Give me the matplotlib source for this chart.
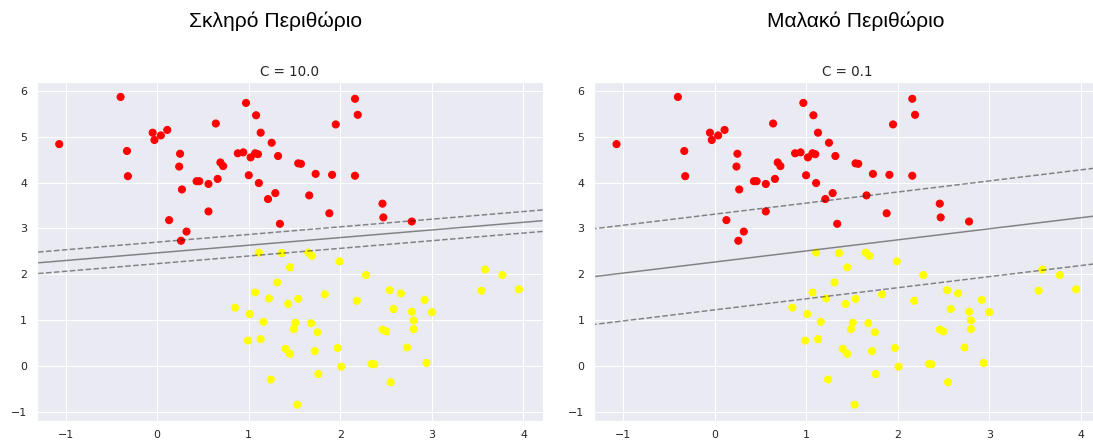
import numpy as np
import matplotlib
matplotlib.use('Agg')
import matplotlib.pyplot as plt
import seaborn as sns

sns.set_theme()

# points: class 0 (red) and class 1 (yellow)
red_x = [-1.07, -0.40, -0.33, -0.32, -0.05, -0.03, 0.04, 0.11, 0.25, 0.24,
         0.27, 0.13, 0.32, 0.26, 0.43, 0.46, 0.56, 0.56, 0.66, 0.64,
         0.69, 0.72, 0.88, 0.94, 0.97, 1.00, 1.02, 1.07, 1.10, 1.08,
         1.13, 1.11, 1.25, 1.32, 1.29, 1.21, 1.34, 1.54, 1.57, 1.73,
         1.91, 2.16, 2.16, 2.19, 1.95, 1.66, 1.88, 2.46, 2.47, 2.78]
red_y = [4.84, 5.87, 4.69, 4.14, 5.09, 4.93, 5.03, 5.15, 4.63, 4.35,
         3.85, 3.18, 2.93, 2.73, 4.03, 4.03, 3.97, 3.37, 4.08, 5.29,
         4.44, 4.36, 4.64, 4.66, 5.74, 4.16, 4.55, 4.64, 4.62, 5.47,
         5.09, 3.99, 4.87, 4.58, 3.77, 3.64, 3.10, 4.42, 4.41, 4.19,
         4.17, 4.15, 5.83, 5.48, 5.27, 3.72, 3.33, 3.54, 3.24, 3.15]
yel_x = [1.11, 1.36, 1.65, 1.69, 1.99, 1.45, 1.31, 1.07, 1.22, 1.43,
         0.85, 1.01, 1.16, 0.99, 1.13, 1.40, 1.45, 1.24, 2.28, 1.83,
         1.54, 2.18, 2.54, 2.66, 2.92, 2.58, 2.78, 3.00, 2.80, 2.80,
         2.46, 2.50, 1.51, 1.49, 1.68, 1.75, 1.72, 1.97, 2.73, 2.01,
         2.34, 2.37, 2.94, 1.76, 2.55, 1.53, 3.58, 3.77, 3.54, 3.95]
yel_y = [2.47, 2.46, 2.47, 2.40, 2.28, 2.15, 1.82, 1.60, 1.47, 1.35,
         1.27, 1.13, 0.96, 0.55, 0.58, 0.37, 0.26, -0.30, 1.98, 1.56,
         1.46, 1.42, 1.65, 1.58, 1.44, 1.24, 1.18, 1.17, 0.99, 0.80,
         0.79, 0.75, 0.94, 0.80, 0.93, 0.73, 0.32, 0.39, 0.40, -0.02,
         0.04, 0.03, 0.06, -0.18, -0.36, -0.85, 2.10, 1.98, 1.64, 1.67]

# decision boundary per model: slope, intercept, half margin (in y)
C_values = [10.0, 0.1]
slopes = [0.167, 0.242]
intercepts = [2.465, 2.265]
margins = [0.235, 1.045]
titles = ['Σκληρό Περιθώριο', 'Μαλακό Περιθώριο']

X = np.array(red_x + yel_x)
Y = np.array(red_y + yel_y)
labels = np.array([0] * len(red_x) + [1] * len(yel_x))

dpi = 72
fig = plt.figure(figsize=(1093 / dpi, 441 / dpi), dpi=dpi)
ax_left = [36.7, 594]
title_x = [275.5, 856]

for i in range(2):
    ax = fig.add_axes([ax_left[i] / 1093, 20.3 / 441, 506 / 1093, 338.4 / 441])
    ax.scatter(X, Y, c=labels, s=50, cmap='autumn')
    ax.set_xlim(-1.316, 4.21)
    ax.set_ylim(-1.20, 6.19)

    # decision function as in a linear svc, drawn with contour
    xx = np.linspace(-1.316, 4.21, 30)
    yy = np.linspace(-1.20, 6.19, 30)
    XX, YY = np.meshgrid(xx, yy)
    P = (slopes[i] * XX + intercepts[i] - YY) / margins[i]
    ax.contour(XX, YY, P, colors='k', levels=[-1, 0, 1], alpha=0.5,
               linestyles=['--', '-', '--'])

    ax.set_xticks([-1, 0, 1, 2, 3, 4])
    ax.set_yticks([-1, 0, 1, 2, 3, 4, 5, 6])
    ax.set_title('C = {0:.1f}'.format(C_values[i]), size=13.5)
    fig.text(title_x[i] / 1093, 1 - 21 / 441, titles[i], ha='center', va='center',
             fontsize=21, color='black', family=['Liberation Sans', 'DejaVu Sans'])

plt.savefig('out.png', dpi=dpi)
